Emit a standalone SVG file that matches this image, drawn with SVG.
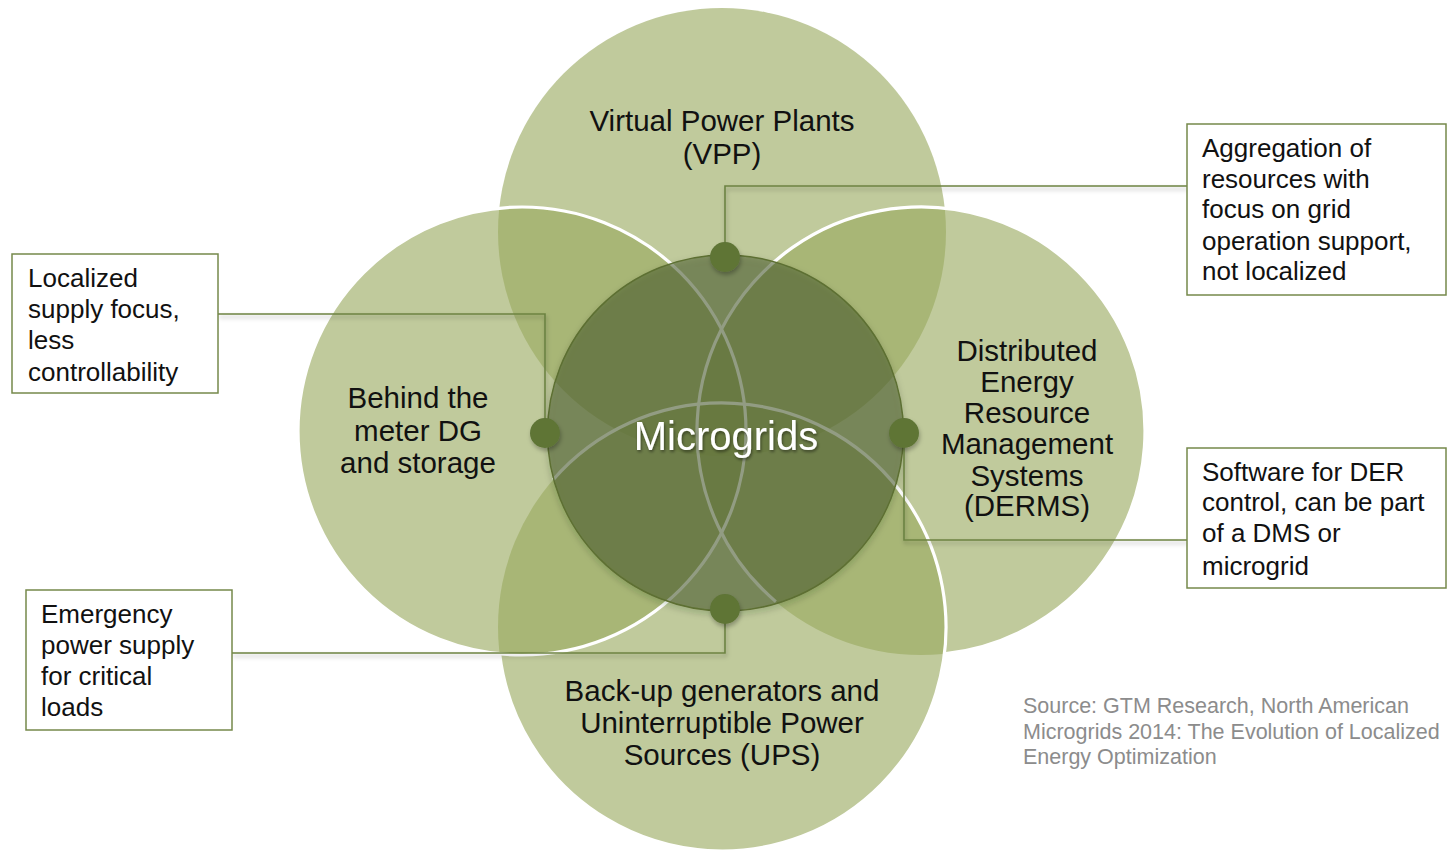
<svg xmlns="http://www.w3.org/2000/svg" width="1447" height="852" viewBox="0 0 1447 852">
  <defs>
    <filter id="sh" x="-20%" y="-20%" width="140%" height="140%">
      <feDropShadow dx="1" dy="3" stdDeviation="2" flood-color="#000" flood-opacity="0.28"/>
    </filter>
    <filter id="shc" x="-20%" y="-20%" width="140%" height="140%">
      <feDropShadow dx="0" dy="3" stdDeviation="3" flood-color="#1e2a0c" flood-opacity="0.3"/>
    </filter>
    <filter id="sht" x="-10%" y="-30%" width="120%" height="160%">
      <feDropShadow dx="1" dy="2" stdDeviation="1.5" flood-color="#000" flood-opacity="0.45"/>
    </filter>
  </defs>
  <style>
    .sat { fill: rgb(153,170,95); fill-opacity: 0.62; }
    .wline { fill: none; stroke: #ffffff; stroke-width: 3.2; }
    .lbl { font-family: "Liberation Sans", Arial, sans-serif; font-size: 29.5px; fill: #111; text-anchor: middle; }
    .box { fill: #ffffff; stroke: #76894b; stroke-width: 1.5; }
    .btxt { font-family: "Liberation Sans", Arial, sans-serif; font-size: 26px; fill: #111; }
    .conn { fill: none; stroke: #6c8242; stroke-width: 1.6; }
    .dot { fill: #5e7436; }
    .src { font-family: "Liberation Sans", Arial, sans-serif; font-size: 21.5px; fill: #8c8c8c; }
  </style>

  <rect width="1447" height="852" fill="#ffffff"/>

  <!-- satellite circles -->
  <g id="vpp">
    <circle class="sat" cx="722" cy="232" r="224"/>
    <text class="lbl" x="722" y="131">Virtual Power Plants</text>
    <text class="lbl" x="722" y="164">(VPP)</text>
  </g>
  <g id="derms">
    <circle class="sat" cx="921" cy="431" r="224"/>
  </g>
  <g id="ups">
    <circle class="sat" cx="722" cy="627" r="224"/>
  </g>
  <g id="btm">
    <circle class="sat" cx="522" cy="431" r="224"/>
  </g>

  <!-- white outlines -->
  <g id="outlines">
    <circle class="wline" cx="522" cy="431" r="224"/>
    <path class="wline" d="M 775.8,601.6 A 224 224 0 1 1 944.4,653.8"/>
    <path class="wline" d="M 553.2,479.7 A 224 224 0 1 1 499.6,653.8"/>
  </g>

  <!-- center -->
  <g id="microgrids">
    <circle cx="725.5" cy="433" r="178" fill="rgb(70,90,40)" fill-opacity="0.5" stroke="#5d6f33" stroke-width="1.5" filter="url(#shc)"/>
    <text x="726" y="450" filter="url(#sht)" style="font-family: 'Liberation Sans', Arial, sans-serif; font-size: 40px; fill: #ffffff; text-anchor: middle;">Microgrids</text>
  </g>

  <!-- satellite labels -->
  <g id="btm-label">
    <text class="lbl" x="418" y="408">Behind the</text>
    <text class="lbl" x="418" y="441">meter DG</text>
    <text class="lbl" x="418" y="473">and storage</text>
  </g>
  <g id="derms-label">
    <text class="lbl" x="1027" y="361">Distributed</text>
    <text class="lbl" x="1027" y="392">Energy</text>
    <text class="lbl" x="1027" y="423">Resource</text>
    <text class="lbl" x="1027" y="454">Management</text>
    <text class="lbl" x="1027" y="486">Systems</text>
    <text class="lbl" x="1027" y="516">(DERMS)</text>
  </g>
  <g id="ups-label">
    <text class="lbl" x="722" y="701">Back-up generators and</text>
    <text class="lbl" x="722" y="733">Uninterruptible Power</text>
    <text class="lbl" x="722" y="765">Sources (UPS)</text>
  </g>

  <!-- connectors -->
  <g id="connectors" filter="url(#sh)">
    <polyline class="conn" points="725,257 725,186 1187,186"/>
    <polyline class="conn" points="545,433 545,314 218,314"/>
    <polyline class="conn" points="904,433 904,540 1187,540"/>
    <polyline class="conn" points="725,609 725,653 232,653"/>
  </g>

  <!-- dots -->
  <g id="dots" filter="url(#sh)">
    <circle class="dot" cx="725" cy="257" r="15"/>
    <circle class="dot" cx="545" cy="433" r="15"/>
    <circle class="dot" cx="904" cy="433" r="15"/>
    <circle class="dot" cx="725" cy="609" r="15"/>
  </g>

  <!-- callout boxes -->
  <g id="note-vpp">
    <rect class="box" x="1187" y="124" width="259" height="171"/>
    <text class="btxt" x="1202" y="157">Aggregation of</text>
    <text class="btxt" x="1202" y="188">resources with</text>
    <text class="btxt" x="1202" y="218">focus on grid</text>
    <text class="btxt" x="1202" y="250">operation support,</text>
    <text class="btxt" x="1202" y="280">not localized</text>
  </g>
  <g id="note-derms">
    <rect class="box" x="1187" y="448" width="259" height="140"/>
    <text class="btxt" x="1202" y="481">Software for DER</text>
    <text class="btxt" x="1202" y="511">control, can be part</text>
    <text class="btxt" x="1202" y="542">of a DMS or</text>
    <text class="btxt" x="1202" y="575">microgrid</text>
  </g>
  <g id="note-btm">
    <rect class="box" x="12" y="254" width="206" height="139"/>
    <text class="btxt" x="28" y="287">Localized</text>
    <text class="btxt" x="28" y="318">supply focus,</text>
    <text class="btxt" x="28" y="349">less</text>
    <text class="btxt" x="28" y="381">controllability</text>
  </g>
  <g id="note-ups">
    <rect class="box" x="26" y="590" width="206" height="140"/>
    <text class="btxt" x="41" y="623">Emergency</text>
    <text class="btxt" x="41" y="654">power supply</text>
    <text class="btxt" x="41" y="685">for critical</text>
    <text class="btxt" x="41" y="716">loads</text>
  </g>

  <g id="source">
    <text class="src" x="1023" y="713">Source: GTM Research, North American</text>
    <text class="src" x="1023" y="739">Microgrids 2014: The Evolution of Localized</text>
    <text class="src" x="1023" y="764">Energy Optimization</text>
  </g>
</svg>
